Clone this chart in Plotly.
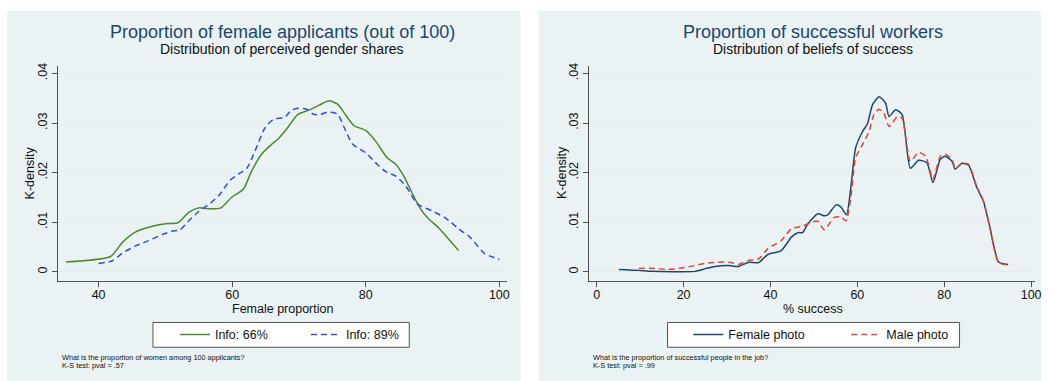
import plotly.graph_objects as go

W, H = 1049, 381

# ---------------- data ----------------
# Left panel: perceived proportion of female applicants
info66_x = [35.1, 41.8, 43.6, 45.5, 47.5, 50.0, 51.9, 53.5, 55.0, 56.7, 58.3, 59.9, 61.7,
            62.9, 64.4, 65.9, 66.8, 68.1, 69.8, 71.3, 72.3, 73.6, 74.5, 75.8, 76.8, 78.2,
            80.0, 81.5, 83.2, 84.5, 85.7, 86.9, 88.2, 89.4, 90.9, 92.6, 93.9]
info66_y = [0.0020, 0.0031, 0.0060, 0.0080, 0.0090, 0.0097, 0.0099, 0.0120, 0.0129, 0.0127,
            0.0129, 0.0150, 0.0167, 0.0203, 0.0237, 0.0257, 0.0267, 0.0287, 0.0317, 0.0325,
            0.0331, 0.0340, 0.0345, 0.0338, 0.0320, 0.0295, 0.0285, 0.0263, 0.0230, 0.0217,
            0.0193, 0.0160, 0.0127, 0.0107, 0.0089, 0.0063, 0.0043]

info89_x = [40.0, 42.0, 43.6, 45.5, 47.5, 49.5, 51.0, 52.2, 53.5, 55.0, 56.7, 58.2, 59.7,
            60.9, 62.2, 63.4, 64.9, 66.1, 67.9, 68.8, 69.8, 71.3, 72.1, 73.1, 74.3, 75.8,
            76.7, 78.0, 80.0, 81.7, 83.0, 84.5, 86.0, 87.7, 89.9, 91.9, 93.9, 95.6, 97.8, 100.0]
info89_y = [0.0017, 0.0022, 0.0038, 0.0052, 0.0063, 0.0075, 0.0082, 0.0085, 0.0103, 0.0122,
            0.0138, 0.0157, 0.0185, 0.0197, 0.0209, 0.0243, 0.0290, 0.0307, 0.0312, 0.0325,
            0.0330, 0.0327, 0.0318, 0.0317, 0.0322, 0.0318, 0.0293, 0.0258, 0.0240, 0.0217,
            0.0202, 0.0193, 0.0173, 0.0137, 0.0123, 0.0109, 0.0087, 0.0070, 0.0037, 0.0025]

# Right panel: beliefs of success
female_x = [5.1, 9.7, 12.7, 22.7, 24.9, 27.2, 30.3, 32.6, 34.9, 37.3, 39.4, 42.5, 44.8,
            46.3, 47.4, 48.6, 50.9, 52.4, 53.2, 55.1, 56.2, 57.5, 58.5, 59.6, 61.2, 62.3,
            63.5, 65.0, 66.5, 67.3, 68.8, 70.3, 72.2, 74.1, 76.0, 77.4, 79.1, 80.2, 81.8,
            82.5, 84.1, 85.6, 87.5, 89.0, 90.5, 92.5, 94.7]
female_y = [0.0005, 0.0003, 0.0001, 0.0001, 0.0006, 0.0011, 0.0013, 0.0011, 0.0019, 0.0019,
            0.0035, 0.0043, 0.0070, 0.0079, 0.0079, 0.0097, 0.0117, 0.0113, 0.0115, 0.0135,
            0.0131, 0.0115, 0.0170, 0.0250, 0.0283, 0.0298, 0.0337, 0.0353, 0.0340, 0.0313,
            0.0327, 0.0317, 0.0209, 0.0225, 0.0220, 0.0180, 0.0227, 0.0233, 0.0223, 0.0207,
            0.0219, 0.0215, 0.0170, 0.0143, 0.0090, 0.0020, 0.0015]

male_x = [9.7, 13.5, 15.8, 18.1, 21.1, 24.9, 28.8, 31.0, 32.6, 34.9, 37.3, 39.4, 42.5,
          44.8, 47.4, 49.7, 50.9, 52.4, 54.7, 56.2, 57.4, 58.5, 59.6, 61.2, 62.7, 63.8,
          65.0, 66.1, 67.3, 69.2, 70.3, 72.2, 74.1, 75.7, 77.4, 79.1, 80.2, 81.8, 82.5,
          84.1, 85.6, 87.5, 89.0, 90.5, 92.5, 94.7]
male_y = [0.0007, 0.0007, 0.0005, 0.0006, 0.0010, 0.0017, 0.0020, 0.0019, 0.0015, 0.0023,
          0.0026, 0.0047, 0.0063, 0.0087, 0.0092, 0.0101, 0.0102, 0.0085, 0.0110, 0.0111,
          0.0103, 0.0150, 0.0230, 0.0257, 0.0283, 0.0317, 0.0328, 0.0320, 0.0293, 0.0313,
          0.0310, 0.0223, 0.0241, 0.0233, 0.0187, 0.0233, 0.0237, 0.0227, 0.0208, 0.0219,
          0.0217, 0.0171, 0.0143, 0.0090, 0.0019, 0.0014]

y_ticks = [0, 0.01, 0.02, 0.03, 0.04]
y_ticktext = ["0", ".01", ".02", ".03", ".04"]
left_xticks = [40, 60, 80, 100]
right_xticks = [0, 20, 40, 60, 80, 100]

# ---------------- styling ----------------
FONT = "Liberation Sans, Arial, Helvetica, sans-serif"
BG = "#EAF2F3"
GRID = "#E2ECEE"
AXIS = "#505050"
NAVY = "#1A476F"


def fx(p):
    return p / W


def fy(p):
    return 1 - p / H


# plot areas in pixels
L = dict(x0=58, x1=510, y0=63, y1=280)
R = dict(x0=593, x1=1042, y0=63, y1=280)

fig = go.Figure()

fig.add_trace(go.Scatter(x=info66_x, y=info66_y, mode="lines", name="Info: 66%",
                         line=dict(color="#4C8A2E", width=1.5, shape="spline", smoothing=0.6),
                         xaxis="x", yaxis="y", legend="legend"))
fig.add_trace(go.Scatter(x=info89_x, y=info89_y, mode="lines", name="Info: 89%",
                         line=dict(color="#2F4BF5", width=1.5, dash="6px,4px",
                                   shape="spline", smoothing=0.6),
                         xaxis="x", yaxis="y", legend="legend"))
fig.add_trace(go.Scatter(x=female_x, y=female_y, mode="lines", name="Female photo",
                         line=dict(color=NAVY, width=1.5, shape="spline", smoothing=0.6),
                         xaxis="x2", yaxis="y2", legend="legend2"))
fig.add_trace(go.Scatter(x=male_x, y=male_y, mode="lines", name="Male photo",
                         line=dict(color="#E8412F", width=1.5, dash="6px,4px",
                                   shape="spline", smoothing=0.6),
                         xaxis="x2", yaxis="y2", legend="legend2"))

common_x = dict(showgrid=False, zeroline=False, showline=True, linecolor=AXIS, linewidth=1,
                ticks="outside", ticklen=5, tickcolor=AXIS, tickwidth=1,
                ticklabelstandoff=-3,
                tickfont=dict(family=FONT, size=12.5, color="#111"))
common_y = dict(showgrid=True, gridcolor=GRID, gridwidth=1, zeroline=False, showline=True,
                linecolor=AXIS, linewidth=1, ticks="outside", ticklen=5, tickcolor=AXIS,
                tickwidth=1, tickangle=-90, tickvals=y_ticks, ticktext=y_ticktext,
                range=[-0.0018, 0.0416],
                tickfont=dict(family=FONT, size=12.5, color="#111"))

leg_common = dict(orientation="h", xanchor="center", yanchor="middle", y=fy(334.5),
                  bgcolor="rgba(0,0,0,0)", borderwidth=0,
                  font=dict(family=FONT, size=12.5, color="#111"))

fig.update_layout(
    width=W, height=H,
    margin=dict(l=0, r=0, t=0, b=0),
    paper_bgcolor="white", plot_bgcolor="white",
    showlegend=True,
    xaxis=dict(domain=[fx(L["x0"]), fx(L["x1"])], range=[33.86, 101.09],
               tickvals=left_xticks, anchor="y", **common_x),
    yaxis=dict(domain=[fy(L["y1"]), fy(L["y0"])], anchor="x", **common_y),
    xaxis2=dict(domain=[fx(R["x0"]), fx(R["x1"])], range=[-1.76, 100.9],
                tickvals=right_xticks, anchor="y2", **common_x),
    yaxis2=dict(domain=[fy(R["y1"]), fy(R["y0"])], anchor="x2", **common_y),
    legend=dict(x=fx(308), entrywidth=86, **leg_common),
    legend2=dict(x=fx(852), entrywidth=113, **leg_common),
)

# panel backgrounds
for x0, x1 in [(7, 524), (542, 1048)]:
    fig.add_shape(type="rect", xref="paper", yref="paper", x0=fx(x0), x1=fx(x1),
                  y0=0, y1=fy(8), fillcolor=BG, line=dict(width=0), layer="below")
# legend boxes
for x0, x1 in [(154, 412), (672, 966)]:
    fig.add_shape(type="rect", xref="paper", yref="paper", x0=fx(x0), x1=fx(x1),
                  y0=fy(347), y1=fy(322), fillcolor="white",
                  line=dict(width=1, color="#555"), layer="below")

ann = []


def text(x, y, s, size, color="#111", xanchor="center", textangle=0):
    ann.append(dict(x=fx(x), y=fy(y), xref="paper", yref="paper", text=s, showarrow=False,
                    xanchor=xanchor, yanchor="middle", textangle=textangle,
                    font=dict(family=FONT, size=size, color=color)))


# titles
text(284, 29.5, "Proportion of female applicants (out of 100)", 18, NAVY)
text(284, 46.5, "Distribution of perceived gender shares", 14)
text(818, 29.5, "Proportion of successful workers", 18, NAVY)
text(818, 46.5, "Distribution of beliefs of success", 14)
# axis titles
text(284, 308, "Female proportion", 12.5)
text(818, 308, "% success", 12.5)
text(30, 171, "K-density", 12.5, textangle=-90)
text(565, 171, "K-density", 12.5, textangle=-90)
# notes
text(60, 357, "What is the proportion of women among 100 applicants?", 7.3, xanchor="left")
text(60, 365, "K-S test: pval = .57", 7.3, xanchor="left")
text(595, 357, "What is the proportion of successful people in the job?", 7.3, xanchor="left")
text(595, 365, "K-S test: pval = .99", 7.3, xanchor="left")

fig.update_layout(annotations=ann)

fig.write_html("out.html")
